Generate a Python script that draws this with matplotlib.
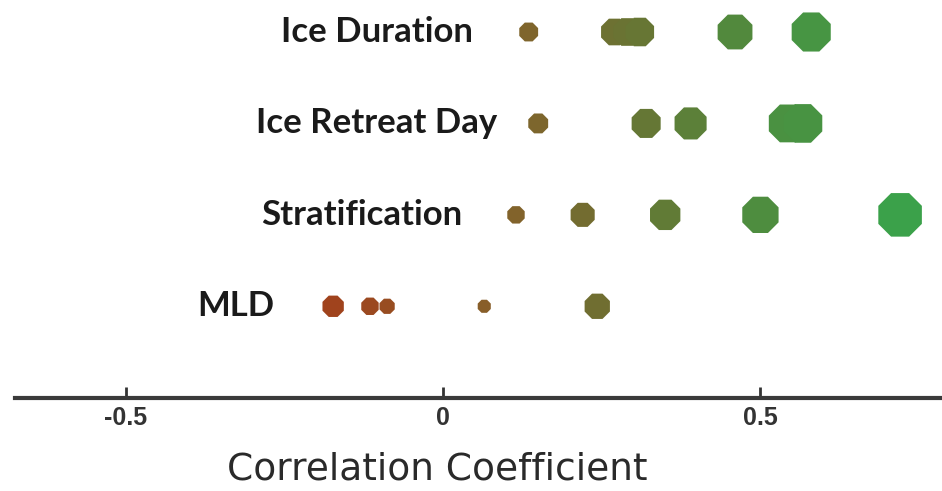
import numpy as np
import matplotlib.pyplot as plt
from matplotlib.colors import LinearSegmentedColormap

# correlation of each driver with the response
variables = ["Ice Duration", "Ice Retreat Day", "Stratification", "MLD"]
ice_duration = [0.135, 0.27, 0.29, 0.31, 0.46, 0.58]
ice_retreat = [0.15, 0.32, 0.39, 0.543, 0.567]
stratification = [0.115, 0.22, 0.35, 0.50, 0.72]
mld = [-0.173, -0.115, -0.088, 0.065, 0.243]
xticks = [-0.5, 0, 0.5]
xtick_labels = ["-0.5", "0", "0.5"]

series = [ice_duration, ice_retreat, stratification, mld]
label_x = [0.047, 0.085, 0.030, -0.265]

cmap = LinearSegmentedColormap.from_list(
    "rg", [(0.0, "#a3401c"), (0.3, "#86602a"), (0.5, "#6c7132"),
           (0.7, "#518a3d"), (1.0, "#38a44c")])
norm = plt.Normalize(-0.2, 0.75)

fig = plt.figure(figsize=(9.42, 4.91), dpi=100)
ax = fig.add_axes([0.016, 0.19, 0.984, 0.81])

for i, (name, vals) in enumerate(zip(variables, series)):
    vals = np.array(vals)
    y = np.full(len(vals), 3 - i)
    ax.scatter(vals, y, s=1600 * np.abs(vals), marker="8",
               c=cmap(norm(vals)), edgecolors="none", zorder=3)
    ax.text(label_x[i], 3 - i, name, ha="right", va="center",
            fontsize=25, fontweight="bold", family="Lato", color="#1a1a1a")

ax.set_xlim(-0.674, 0.786)
ax.set_ylim(-1.0, 3.35)
ax.set_yticks([])
for s in ["top", "right", "left"]:
    ax.spines[s].set_visible(False)
ax.spines["bottom"].set_linewidth(3)
ax.spines["bottom"].set_color("#3a3a3a")

ax.set_xticks(xticks)
ax.set_xticklabels(xtick_labels, family="Liberation Sans", fontsize=18,
                   fontweight="bold", color="#333333")
ax.tick_params(axis="x", direction="in", length=8, width=2, color="#333333", pad=6)
ax.set_xlabel("Correlation Coefficient", family="DejaVu Sans", fontsize=27,
              color="#2a2a2a")
ax.xaxis.set_label_coords(0.455, -0.135)

fig.savefig("out.png", dpi=100, facecolor="white")
